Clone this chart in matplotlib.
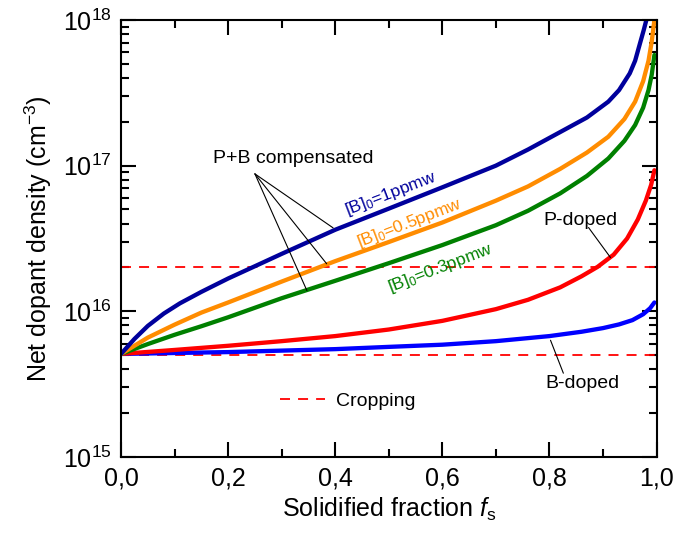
import numpy as np
import matplotlib
matplotlib.use('Agg')
import matplotlib.pyplot as plt
from matplotlib.ticker import FuncFormatter, LogLocator, MultipleLocator

# values
fs_1ppmw = [0, 0.025, 0.05, 0.08, 0.11, 0.15, 0.2, 0.25, 0.3, 0.4, 0.5, 0.6, 0.7, 0.76, 0.82, 0.87, 0.91, 0.93,
            0.95, 0.96, 0.97, 0.976, 0.981]
n_1ppmw = [5.1e15, 6.46e15, 7.94e15, 9.66e15, 1.135e16, 1.36e16, 1.68e16, 2.04e16, 2.48e16, 3.63e16, 5.07e16,
           7.1e16, 1.0e17, 1.29e17, 1.7e17, 2.14e17, 2.75e17, 3.3e17, 4.3e17, 5.25e17, 7.1e17, 8.5e17, 1e18]

fs_05ppmw = [0, 0.05, 0.1, 0.15, 0.2, 0.3, 0.4, 0.5, 0.6, 0.7, 0.76, 0.82, 0.87, 0.91, 0.94, 0.96, 0.975, 0.985,
             0.991, 0.996]
n_05ppmw = [5.1e15, 6.6e15, 8.1e15, 9.8e15, 1.15e16, 1.6e16, 2.21e16, 2.99e16, 4.07e16, 5.75e16, 7.2e16, 9.5e16,
            1.23e17, 1.58e17, 2.09e17, 2.75e17, 3.8e17, 5.25e17, 7.1e17, 1e18]

fs_03ppmw = [0, 0.05, 0.1, 0.15, 0.2, 0.3, 0.4, 0.5, 0.6, 0.7, 0.76, 0.82, 0.87, 0.91, 0.94, 0.96, 0.975, 0.985,
             0.991, 0.996]
n_03ppmw = [5.1e15, 5.96e15, 6.9e15, 7.9e15, 9.1e15, 1.23e16, 1.62e16, 2.14e16, 2.85e16, 3.9e16, 4.9e16, 6.45e16,
            8.5e16, 1.12e17, 1.48e17, 1.9e17, 2.5e17, 3.3e17, 4.2e17, 5.75e17]

fs_p = [0, 0.1, 0.2, 0.3, 0.4, 0.5, 0.6, 0.7, 0.76, 0.82, 0.86, 0.89, 0.92, 0.945, 0.965, 0.98, 0.99, 0.996]
n_p = [5.1e15, 5.43e15, 5.8e15, 6.24e15, 6.76e15, 7.5e15, 8.6e15, 1.035e16, 1.2e16, 1.46e16, 1.74e16, 2.02e16,
       2.45e16, 3.16e16, 4.27e16, 5.75e16, 7.4e16, 9.3e16]

fs_b = [0, 0.2, 0.4, 0.5, 0.6, 0.7, 0.8, 0.86, 0.9, 0.93, 0.955, 0.975, 0.988, 0.996]
n_b = [5.1e15, 5.25e15, 5.5e15, 5.7e15, 5.9e15, 6.24e15, 6.76e15, 7.24e15, 7.67e15, 8.13e15, 8.7e15, 9.55e15,
       1.05e16, 1.15e16]

cropping_levels = [5e15, 2e16]

plt.rcParams['font.family'] = ['Liberation Sans', 'DejaVu Sans']
plt.rcParams['mathtext.fontset'] = 'custom'
plt.rcParams['mathtext.rm'] = 'Liberation Sans'
plt.rcParams['mathtext.it'] = 'Liberation Sans:italic'
plt.rcParams['lines.scale_dashes'] = False

fig = plt.figure(figsize=(6.8, 5.37), dpi=100)
ax = fig.add_axes([0.178, 0.149, 0.7875, 0.8138])

# cropping limits
for i, lvl in enumerate(cropping_levels):
    ax.axhline(lvl, color='#ff0000', lw=1.3, dashes=(7.2, 5.8), label='Cropping' if i == 0 else None)

lw = 3.1
ax.plot(fs_b, n_b, color='#0000ff', lw=lw, solid_capstyle='round', solid_joinstyle='round')
ax.plot(fs_p, n_p, color='#ff0000', lw=lw, solid_capstyle='round', solid_joinstyle='round')
ax.plot(fs_03ppmw, n_03ppmw, color='#008000', lw=lw, solid_capstyle='round', solid_joinstyle='round')
ax.plot(fs_05ppmw, n_05ppmw, color='#ff8c00', lw=lw, solid_capstyle='round', solid_joinstyle='round')
ax.plot(fs_1ppmw, n_1ppmw, color='#00009c', lw=lw, solid_capstyle='round', solid_joinstyle='round')

ax.set_yscale('log')
ax.set_xlim(0, 1)
ax.set_ylim(1e15, 1e18)
ax.xaxis.set_major_locator(MultipleLocator(0.2))
ax.xaxis.set_minor_locator(MultipleLocator(0.1))
ax.xaxis.set_major_formatter(FuncFormatter(lambda v, p: f'{v:.1f}'.replace('.', ',')))
ax.yaxis.set_minor_locator(LogLocator(base=10, subs=np.arange(2, 10)))
ax.tick_params(which='both', direction='in', top=True, right=True, width=1.5, labelsize=18, pad=7)
ax.tick_params(which='major', length=11)
ax.tick_params(which='minor', length=6)
ax.yaxis.set_tick_params(which='minor', labelleft=False)
for sp in ax.spines.values():
    sp.set_linewidth(1.5)

ax.set_xlabel(r'Solidified fraction $\mathit{f}_{\mathrm{s}}$', fontsize=18, labelpad=4)
ax.set_ylabel(r'Net dopant density (cm$^{-3}$)', fontsize=18, labelpad=6)

# annotations
line_kw = dict(arrowstyle='-', color='black', lw=0.8, shrinkA=0, shrinkB=0)
ax.text(0.322, 1.12e17, 'P+B compensated', fontsize=14, ha='center', va='center')
for end in [(0.396, 3.74e16), (0.384, 2.12e16), (0.347, 1.39e16)]:
    ax.annotate('', xy=end, xytext=(0.25, 8.78e16), arrowprops=line_kw)

ax.text(0.503, 6.43e16, r'[B]$_0$=1ppmw', color='#00009c', fontsize=12.5, rotation=21,
        ha='center', va='center', rotation_mode='anchor')
ax.text(0.538, 4.0e16, r'[B]$_0$=0.5ppmw', color='#ff8c00', fontsize=12.5, rotation=21,
        ha='center', va='center', rotation_mode='anchor')
ax.text(0.596, 1.97e16, r'[B]$_0$=0.3ppmw', color='#008000', fontsize=12.5, rotation=21,
        ha='center', va='center', rotation_mode='anchor')

ax.text(0.858, 4.2e16, 'P-doped', fontsize=14, ha='center', va='center')
ax.annotate('', xy=(0.914, 2.34e16), xytext=(0.873, 3.76e16), arrowprops=line_kw)
ax.text(0.862, 3.21e15, 'B-doped', fontsize=14, ha='center', va='center')
ax.annotate('', xy=(0.802, 6.33e15), xytext=(0.826, 3.76e15), arrowprops=line_kw)

ax.legend(loc='center left', bbox_to_anchor=(0.297, 0.128), frameon=False, fontsize=14,
          handlelength=2.3, handletextpad=0.6, borderpad=0, borderaxespad=0)

fig.savefig('out.png', dpi=100)
